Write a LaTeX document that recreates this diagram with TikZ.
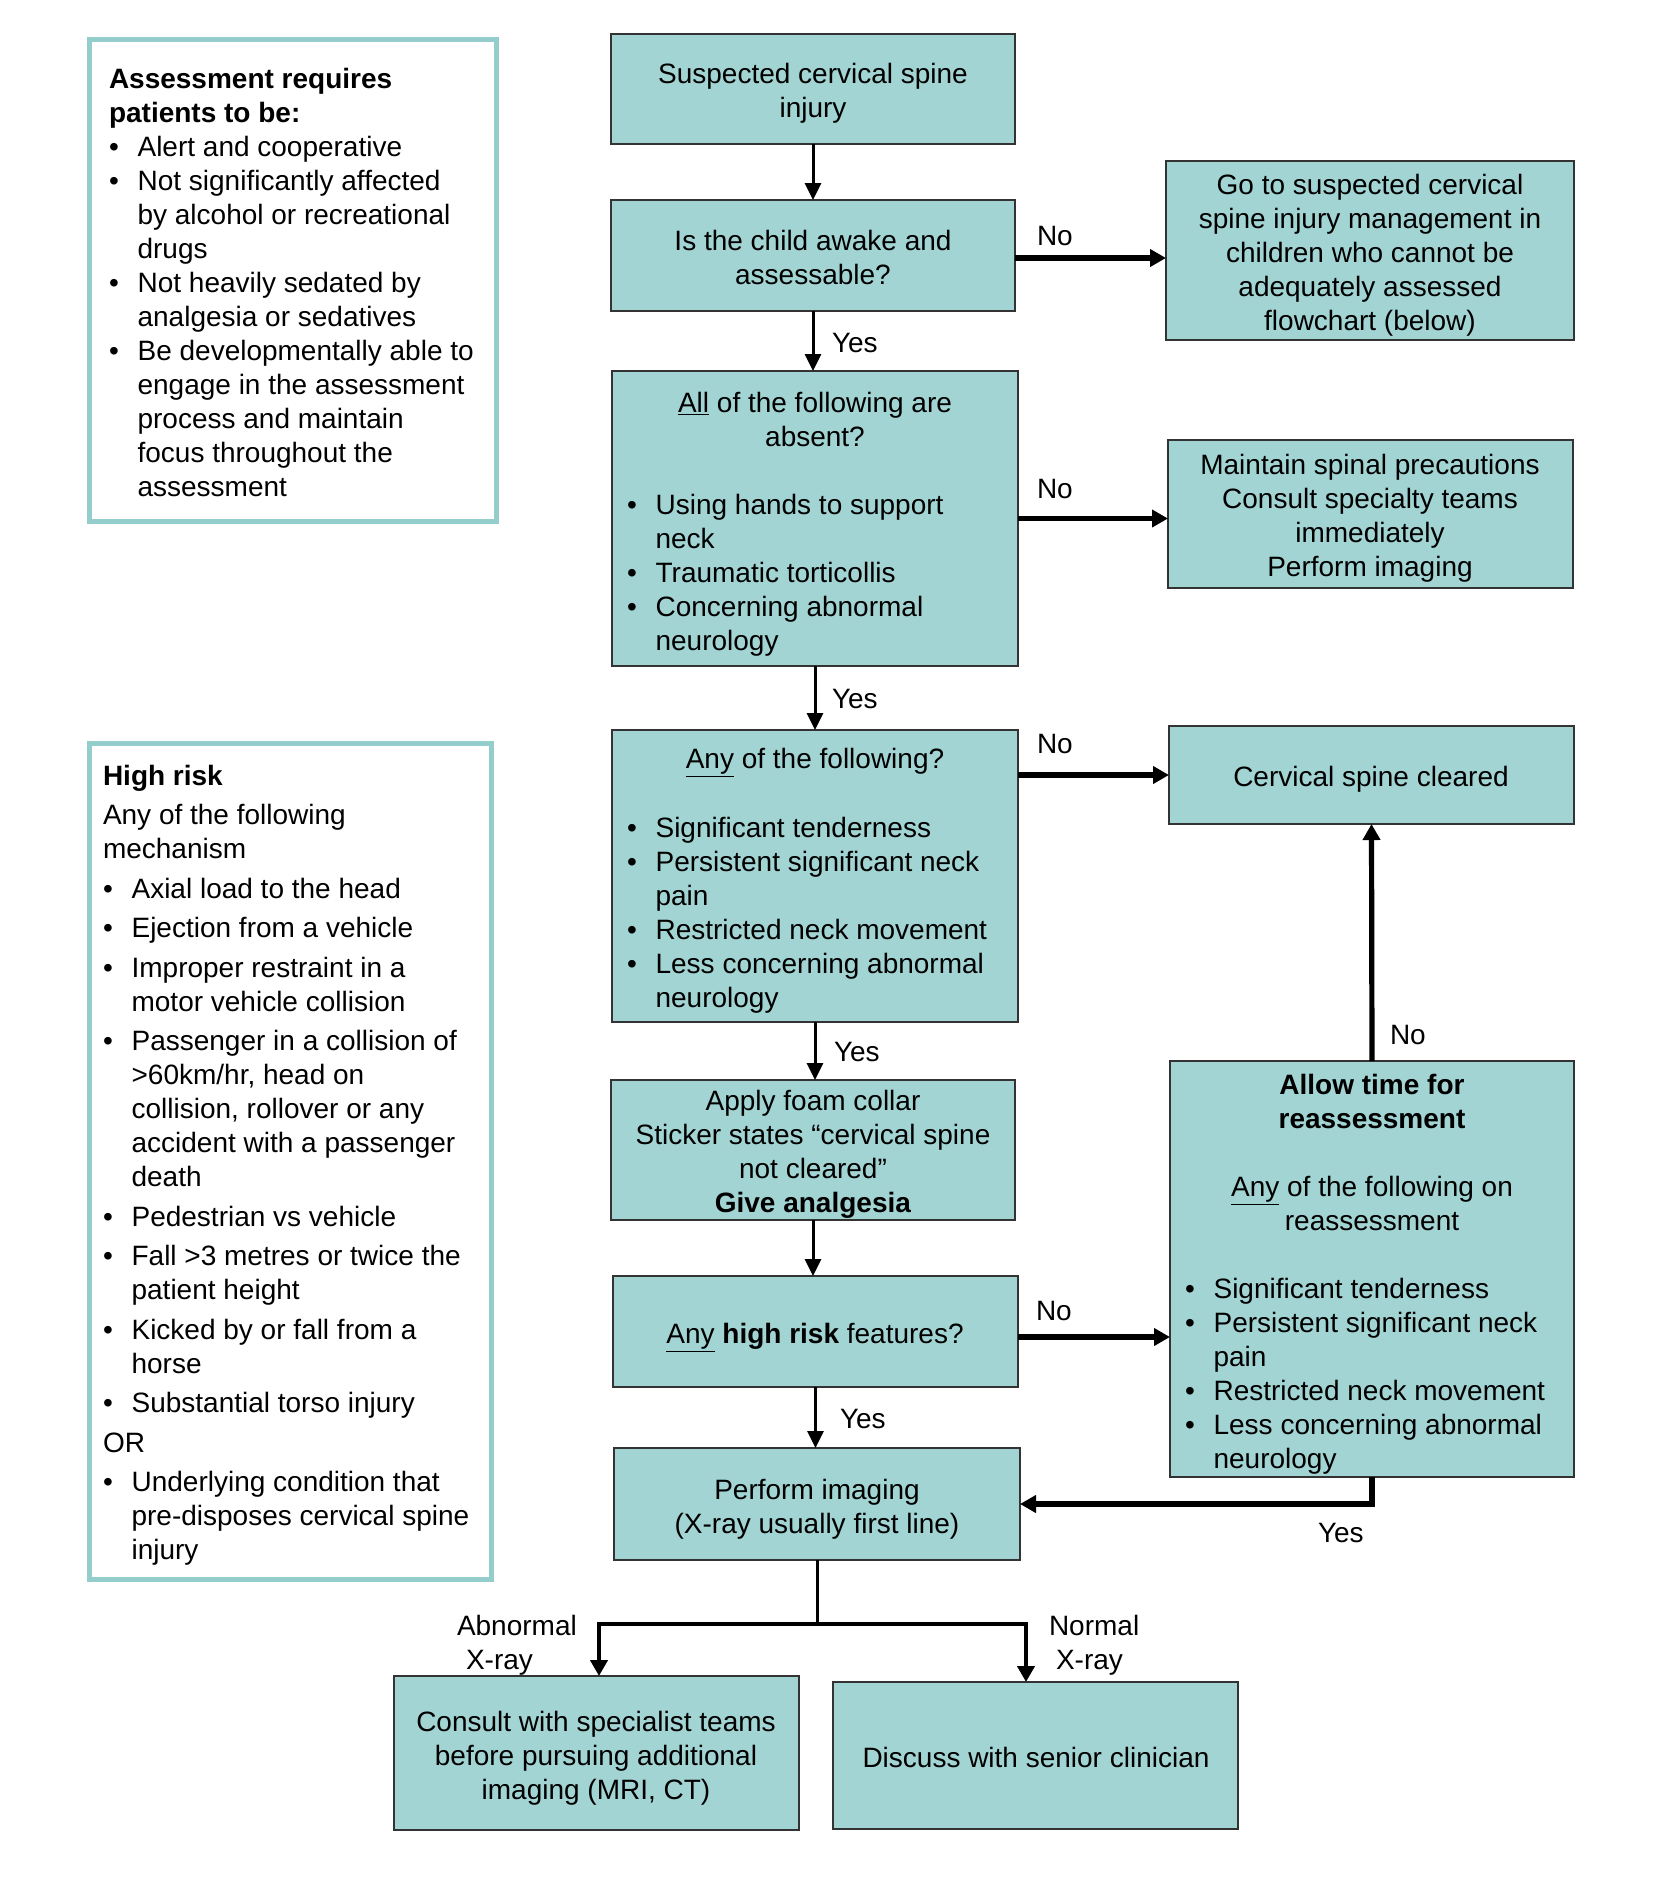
\documentclass[tikz,border=0pt]{standalone}
\usepackage{fontspec}
\setmainfont{Liberation Sans}
\usetikzlibrary{arrows.meta,fit}
\definecolor{boxfill}{HTML}{A1D4D3}
\definecolor{tealline}{HTML}{93CECC}
\newcommand\ctext[1]{\begin{tabular}[t]{@{}c@{}}#1\end{tabular}}
\newcommand\btext[1]{\begin{tabular}[t]{@{}l@{}l@{}}#1\end{tabular}}
\newcommand\bl{\makebox[14.3pt][l]{\textbullet}}
\newcommand\hd[1]{\multicolumn{2}{@{}l@{}}{#1}}
\begin{document}
\begin{tikzpicture}[x=0.5pt,y=-0.5pt,
  every node/.style={font=\fontsize{14}{17}\selectfont, inner sep=0pt, outer sep=0pt},
  fbox/.style={draw=black!80, line width=0.8pt, fill=boxfill},
  sbox/.style={draw=tealline, line width=2.5pt, fill=white},
  thinarrow/.style={line width=1.5pt, -{Triangle[width=8pt,length=8.5pt]}},
  thickarrow/.style={line width=2.6pt, line join=miter, -{Triangle[width=8.5pt,length=8pt]}},
  ctr/.style={anchor=base},
  lft/.style={anchor=base west}]
\useasboundingbox (0,0) rectangle (1665,1881);

% side boxes
\node[sbox, fit={(89,39) (496,521)}] (req) {};
\node[lft] (req-t) at (109,88) {\btext{\hd{\textbf{Assessment requires}}\\
 \hd{\textbf{patients to be:}}\\
 \bl & Alert and cooperative\\
 \bl & Not significantly affected\\
     & by alcohol or recreational\\
     & drugs\\
 \bl & Not heavily sedated by\\
     & analgesia or sedatives\\
 \bl & Be developmentally able to\\
     & engage in the assessment\\
     & process and maintain\\
     & focus throughout the\\
     & assessment}};

\node[sbox, fit={(89,743) (491,1579)}] (risk) {};
\node[lft] (risk-t) at (103,785) {\btext{\hd{\textbf{High risk}}\\[2.75pt]
 \hd{Any of the following}\\
 \hd{mechanism}\\[2.75pt]
 \bl & Axial load to the head\\[2.75pt]
 \bl & Ejection from a vehicle\\[2.75pt]
 \bl & Improper restraint in a\\ & motor vehicle collision\\[2.75pt]
 \bl & Passenger in a collision of\\ & >60km/hr, head on\\ & collision, rollover or any\\ & accident with a passenger\\ & death\\[2.75pt]
 \bl & Pedestrian vs vehicle\\[2.75pt]
 \bl & Fall >3 metres or twice the\\ & patient height\\[2.75pt]
 \bl & Kicked by or fall from a\\ & horse\\[2.75pt]
 \bl & Substantial torso injury\\[2.75pt]
 \hd{OR}\\[2.75pt]
 \bl & Underlying condition that\\ & pre-disposes cervical spine\\ & injury}};

% flow boxes
\node[fbox, fit={(611,34) (1015,144)}] (susp) {};
\node[ctr] (susp-t) at (813,83) {\ctext{Suspected cervical spine\\injury}};

\node[fbox, fit={(611,200) (1015,311)}] (is) {};
\node[ctr] (is-t) at (813,250) {\ctext{Is the child awake and\\assessable?}};

\node[fbox, fit={(1166,161) (1574,340)}] (go) {};
\node[ctr] (go-t) at (1370,194) {\ctext{Go to suspected cervical\\spine injury management in\\children who cannot be\\adequately assessed\\flowchart (below)}};

\node[fbox, fit={(612,371) (1018,666)}] (all) {};
\node[ctr] (all-t) at (815,412) {\ctext{\underline{All} of the following are\\absent?}};
\node[lft] (all-b) at (627,514) {\btext{\bl & Using hands to support\\ & neck\\
 \bl & Traumatic torticollis\\ \bl & Concerning abnormal\\ & neurology}};

\node[fbox, fit={(1168,440) (1573,588)}] (maint) {};
\node[ctr] (maint-t) at (1370,474) {\ctext{Maintain spinal precautions\\Consult specialty teams\\immediately\\Perform imaging}};

\node[fbox, fit={(612,730) (1018,1022)}] (any) {};
\node[ctr] (any-t) at (815,768) {\ctext{\underline{Any} of the following?}};
\node[lft] (any-b) at (627,837) {\btext{\bl & Significant tenderness\\
 \bl & Persistent significant neck\\ & pain\\
 \bl & Restricted neck movement\\
 \bl & Less concerning abnormal\\ & neurology}};

\node[fbox, fit={(1169,726) (1574,824)}] (clr) {};
\node[ctr] (clr-t) at (1371,786) {Cervical spine cleared};

\node[fbox, fit={(611,1080) (1015,1220)}] (apply) {};
\node[ctr] (apply-t) at (813,1110) {\ctext{Apply foam collar\\Sticker states “cervical spine\\not cleared”\\\textbf{Give analgesia}}};

\node[fbox, fit={(1170,1061) (1574,1477)}] (allow) {};
\node[ctr] (allow-t) at (1372,1094) {\ctext{\textbf{Allow time for}\\\textbf{reassessment}\\ \\\underline{Any} of the following on\\reassessment}};
\node[lft] (allow-b) at (1185,1298) {\btext{\bl & Significant tenderness\\
 \bl & Persistent significant neck\\ & pain\\
 \bl & Restricted neck movement\\
 \bl & Less concerning abnormal\\ & neurology}};

\node[fbox, fit={(613,1276) (1018,1387)}] (high) {};
\node[ctr] (high-t) at (815,1343) {\underline{Any} \textbf{high risk} features?};

\node[fbox, fit={(614,1448) (1020,1560)}] (perf) {};
\node[ctr] (perf-t) at (817,1499) {\ctext{Perform imaging\\(X-ray usually first line)}};

\node[fbox, fit={(394,1676) (799,1830)}] (cons) {};
\node[ctr] (cons-t) at (596,1731) {\ctext{Consult with specialist teams\\before pursuing additional\\imaging (MRI, CT)}};

\node[fbox, fit={(833,1682) (1238,1829)}] (disc) {};
\node[ctr] (disc-t) at (1036,1767) {Discuss with senior clinician};

% connectors
\draw[thinarrow] (susp.south) -- (susp.south |- is.north);
\draw[thinarrow] (is.south) -- (is.south |- all.north);
\draw[thinarrow] (all.south) -- (all.south |- any.north);
\draw[thinarrow] (any.south) -- (any.south |- apply.north);
\draw[thinarrow] (apply.south) -- (apply.south |- high.north);
\draw[thinarrow] (high.south) -- (high.south |- perf.north);
\coordinate (n1) at (1015,258);
\draw[thickarrow] (n1) -- (n1 -| go.west);
\draw[thickarrow] (all.east) -- (all.east -| maint.west);
\draw[thickarrow] (clr.west -| any.east) -- (clr.west);
\coordinate (h1) at (1018,1337);
\draw[thickarrow] (h1) -- (h1 -| allow.west);
\draw[thickarrow] (allow.north) -- (clr.south);
\draw[thickarrow] (allow.south) |- (perf.east);
\coordinate (split) at (817,1624);
\coordinate (bleft) at (599,1624);
\coordinate (bright) at (1026,1624);
\draw[line width=1.5pt] (perf.south) -- (split);
\draw[thickarrow, line width=2.3pt] (split) -- (bleft) -- (bleft |- cons.north);
\draw[thickarrow, line width=2.3pt] (split) -- (bright) -- (bright |- disc.north);

% labels
\node[lft] (l-no1) at (1037,245) {No};
\node[lft] (l-yes1) at (832,352) {Yes};
\node[lft] (l-no2) at (1037,498) {No};
\node[lft] (l-yes2) at (832,708) {Yes};
\node[lft] (l-no3) at (1037,753) {No};
\node[lft] (l-yes3) at (834,1061) {Yes};
\node[lft] (l-no4) at (1390,1044) {No};
\node[lft] (l-no5) at (1036,1320) {No};
\node[lft] (l-yes4) at (840,1428) {Yes};
\node[lft] (l-yes5) at (1318,1542) {Yes};
\node[lft] (l-abn) at (457,1635) {\begin{tabular}[t]{@{}l@{}}Abnormal\\\hspace{4.5pt}X-ray\end{tabular}};
\node[lft] (l-nrm) at (1049,1635) {\begin{tabular}[t]{@{}l@{}}Normal\\\hspace{3.5pt}X-ray\end{tabular}};
\end{tikzpicture}
\end{document}
